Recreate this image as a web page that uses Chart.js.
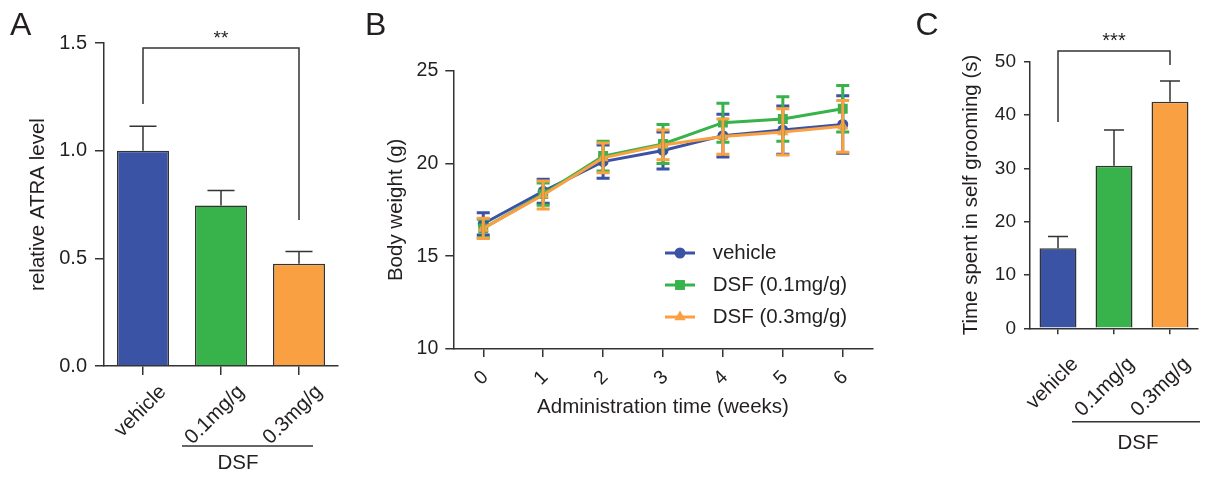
<!DOCTYPE html>
<html>
<head>
<meta charset="utf-8">
<script src="https://cdn.jsdelivr.net/npm/chart.js@4.4.1/dist/chart.umd.min.js"></script>
<style>
  html, body { margin: 0; padding: 0; background: #fff; }
  body { width: 1208px; height: 477px; position: relative; overflow: hidden; }
  canvas { position: absolute; top: 0; }
</style>
</head>
<body>
<canvas id="panelA" width="350" height="477" style="left:0px"></canvas>
<canvas id="panelB" width="550" height="477" style="left:350px"></canvas>
<canvas id="panelC" width="308" height="477" style="left:900px"></canvas>
<script>
// Panel A: relative ATRA level
const groups = ['vehicle', '0.1mg/g', '0.3mg/g'];
const atraMean = [1.0, 0.745, 0.475];
const atraSem = [0.113, 0.07, 0.057];
const atraTicks = [0, 0.5, 1.0, 1.5];

// Panel B: body weight over time
const weeks = ['0', '1', '2', '3', '4', '5', '6'];
const vehicleMean = [16.75, 18.5, 20.1, 20.7, 21.5, 21.8, 22.1];
const vehicleSem = [0.6, 0.65, 0.9, 1.0, 1.15, 1.3, 1.55];
const dsf01Mean = [16.5, 18.35, 20.4, 21.05, 22.2, 22.4, 22.95];
const dsf01Sem = [0.5, 0.6, 0.8, 1.05, 1.05, 1.2, 1.25];
const dsf03Mean = [16.5, 18.3, 20.3, 21.0, 21.45, 21.7, 22.0];
const dsf03Sem = [0.55, 0.75, 0.8, 0.8, 0.95, 1.25, 1.4];
const weightTicks = [10, 15, 20, 25];

// Panel C: self grooming
const groomMean = [15.0, 30.5, 42.5];
const groomSem = [2.2, 6.7, 3.9];
const groomTicks = [0, 10, 20, 30, 40, 50];

const colors = ['#3a53a4', '#38b24a', '#f8a042'];
const ink = '#231f20';
const axisColor = '#333333';
const FONT = "'Liberation Sans', Arial, Helvetica, sans-serif";

Chart.defaults.font.family = FONT;
Chart.defaults.color = ink;

// barras de error (SEM) dibujadas con las escalas del gráfico
const errorBars = {
    id: 'errorBars',
    afterDatasetsDraw(chart, args, opts) {
        const ctx = chart.ctx;
        const ys = chart.scales.y;
        chart.data.datasets.forEach(function(ds, i) {
            if (!ds.sem) return;
            const meta = chart.getDatasetMeta(i);
            ctx.save();
            ctx.strokeStyle = opts.color || ds.borderColor;
            ctx.lineWidth = opts.lineWidth;
            ctx.lineCap = 'butt';
            meta.data.forEach(function(el, j) {
                const x = el.x;
                const top = ys.getPixelForValue(ds.data[j] + ds.sem[j]);
                const bot = ys.getPixelForValue(opts.upOnly ? ds.data[j] : ds.data[j] - ds.sem[j]);
                const hw = opts.capWidth / 2;
                ctx.beginPath();
                ctx.moveTo(x, bot);
                ctx.lineTo(x, top);
                ctx.moveTo(x - hw, top);
                ctx.lineTo(x + hw, top);
                if (!opts.upOnly) {
                    ctx.moveTo(x - hw, bot);
                    ctx.lineTo(x + hw, bot);
                }
                ctx.stroke();
            });
            ctx.restore();
        });
    }
};

// letra del panel, corchete de significancia, grupo DSF y leyenda
const extras = {
    id: 'extras',
    afterDraw(chart, args, o) {
        const ctx = chart.ctx;
        ctx.save();
        ctx.fillStyle = ink;
        ctx.strokeStyle = axisColor;
        ctx.lineWidth = 1.5;

        ctx.font = '32px ' + FONT;
        ctx.textAlign = 'left';
        ctx.textBaseline = 'alphabetic';
        ctx.fillText(o.letter, o.letterX, 35);

        if (o.bracket) {
            const b = o.bracket;
            const xs = chart.scales.x, ys = chart.scales.y;
            const x1 = xs.getPixelForValue(b.from);
            const x2 = xs.getPixelForValue(b.to);
            const yt = ys.getPixelForValue(b.top);
            ctx.beginPath();
            ctx.moveTo(x1, ys.getPixelForValue(b.fromBottom));
            ctx.lineTo(x1, yt);
            ctx.lineTo(x2, yt);
            ctx.lineTo(x2, ys.getPixelForValue(b.toBottom));
            ctx.stroke();
            ctx.font = b.size + 'px ' + FONT;
            ctx.textAlign = 'center';
            ctx.fillText(b.label, (x1 + x2) / 2, yt - 4);
        }

        if (o.group) {
            const g = o.group;
            ctx.beginPath();
            ctx.moveTo(g.x1, g.y);
            ctx.lineTo(g.x2, g.y);
            ctx.stroke();
            ctx.font = '20.5px ' + FONT;
            ctx.textAlign = 'center';
            ctx.textBaseline = 'middle';
            ctx.fillText(g.text, g.textX, g.textY);
        }

        if (o.legend) {
            const l = o.legend;
            chart.data.datasets.forEach(function(ds, i) {
                const y = l.y + i * l.gap;
                ctx.strokeStyle = ds.borderColor;
                ctx.fillStyle = ds.borderColor;
                ctx.lineWidth = ds.borderWidth;
                ctx.beginPath();
                ctx.moveTo(l.x, y);
                ctx.lineTo(l.x + l.len, y);
                ctx.stroke();
                Chart.helpers.drawPoint(ctx, {
                    pointStyle: ds.pointStyle,
                    radius: ds.pointRadius,
                    rotation: 0,
                    borderWidth: 0
                }, l.x + l.len / 2, y);
                ctx.fillStyle = ink;
                ctx.font = '20.5px ' + FONT;
                ctx.textAlign = 'left';
                ctx.textBaseline = 'middle';
                ctx.fillText(ds.label, l.textX, y);
            });
        }
        ctx.restore();
    }
};

function axisGrid(tickLen) {
    return { display: true, drawOnChartArea: false, offset: false, tickLength: tickLen, color: axisColor, lineWidth: 1.5 };
}
const axisBorder = { display: true, color: axisColor, width: 1.5 };

// ---- Panel A ----
new Chart(document.getElementById('panelA'), {
    type: 'bar',
    data: {
        labels: groups,
        datasets: [{
            data: atraMean,
            sem: atraSem,
            backgroundColor: colors,
            borderColor: axisColor,
            borderWidth: 1.5,
            barPercentage: 0.667,
            categoryPercentage: 1
        }]
    },
    options: {
        responsive: false,
        animation: false,
        devicePixelRatio: 1,
        layout: { padding: { left: 25.7, top: 43, right: 12, bottom: 0 } },
        plugins: {
            legend: { display: false },
            tooltip: { enabled: false },
            errorBars: { capWidth: 27, lineWidth: 1.5, color: axisColor, upOnly: true },
            extras: {
                letter: 'A', letterX: 10,
                bracket: { from: 0, to: 2, top: 1.477, fromBottom: 1.217, toBottom: 0.678, label: '**', size: 19 },
                group: { x1: 182, x2: 313, y: 446, text: 'DSF', textX: 238, textY: 463 }
            }
        },
        scales: {
            x: {
                grid: axisGrid(9),
                border: axisBorder,
                ticks: { color: ink, font: { size: 20.5 }, maxRotation: 45, minRotation: 45, padding: 5, labelOffset: 20, autoSkip: false },
                afterFit: function(s) { s.height = 111; }
            },
            y: {
                min: 0, max: 1.5,
                afterBuildTicks: function(s) { s.ticks = atraTicks.map(v => ({ value: v })); },
                grid: axisGrid(9),
                border: axisBorder,
                ticks: { color: ink, font: { size: 20 }, padding: 8, callback: v => v.toFixed(1) },
                title: { display: true, text: 'relative ATRA level', color: ink, font: { size: 20.5 }, padding: 0 },
                afterFit: function(s) { s.width = 78.3; }
            }
        }
    },
    plugins: [errorBars, extras]
});

// ---- Panel B ----
new Chart(document.getElementById('panelB'), {
    type: 'line',
    data: {
        labels: weeks,
        datasets: [
            { label: 'vehicle', data: vehicleMean, sem: vehicleSem, borderColor: colors[0], backgroundColor: colors[0],
              borderWidth: 3, pointStyle: 'circle', pointRadius: 5.5, pointBorderWidth: 0, tension: 0, order: 2 },
            { label: 'DSF (0.1mg/g)', data: dsf01Mean, sem: dsf01Sem, borderColor: colors[1], backgroundColor: colors[1],
              borderWidth: 3, pointStyle: 'rect', pointRadius: 7, pointBorderWidth: 0, tension: 0, order: 1 },
            { label: 'DSF (0.3mg/g)', data: dsf03Mean, sem: dsf03Sem, borderColor: colors[2], backgroundColor: colors[2],
              borderWidth: 3, pointStyle: 'triangle', pointRadius: 6.5, pointBorderWidth: 0, tension: 0, order: 0 }
        ]
    },
    options: {
        responsive: false,
        animation: false,
        devicePixelRatio: 1,
        layout: { padding: { left: 34.4, top: 70.7, right: 27.3, bottom: 57.7 } },
        plugins: {
            legend: { display: false },
            tooltip: { enabled: false },
            errorBars: { capWidth: 13, lineWidth: 3, upOnly: false },
            extras: {
                letter: 'B', letterX: 15,
                legend: { x: 315, y: 253, gap: 32, len: 30, textX: 362.7 }
            }
        },
        scales: {
            x: {
                offset: true,
                grid: axisGrid(8),
                border: axisBorder,
                ticks: { color: ink, font: { size: 19.5 }, maxRotation: 45, minRotation: 45, padding: 9, labelOffset: 2, autoSkip: false },
                title: { display: true, text: 'Administration time (weeks)', color: ink, font: { size: 20.5 }, padding: 0 },
                afterFit: function(s) { s.height = 70.3; }
            },
            y: {
                min: 10, max: 25,
                afterBuildTicks: function(s) { s.ticks = weightTicks.map(v => ({ value: v })); },
                grid: axisGrid(8),
                border: axisBorder,
                ticks: { color: ink, font: { size: 19.5 }, padding: 7 },
                title: { display: true, text: 'Body weight (g)', color: ink, font: { size: 20.5 }, padding: 0 },
                afterFit: function(s) { s.width = 68.9; }
            }
        }
    },
    plugins: [errorBars, extras]
});

// ---- Panel C ----
new Chart(document.getElementById('panelC'), {
    type: 'bar',
    data: {
        labels: groups,
        datasets: [{
            data: groomMean,
            sem: groomSem,
            backgroundColor: colors,
            borderColor: axisColor,
            borderWidth: 1.5,
            barPercentage: 0.66,
            categoryPercentage: 1
        }]
    },
    options: {
        responsive: false,
        animation: false,
        devicePixelRatio: 1,
        layout: { padding: { left: 59.4, top: 61.7, right: 10, bottom: 0 } },
        plugins: {
            legend: { display: false },
            tooltip: { enabled: false },
            errorBars: { capWidth: 20, lineWidth: 1.5, color: axisColor, upOnly: true },
            extras: {
                letter: 'C', letterX: 15.5,
                bracket: { from: 0, to: 2, top: 52, fromBottom: 38.7, toBottom: 49.4, label: '***', size: 20 },
                group: { x1: 172, x2: 300, y: 421.7, text: 'DSF', textX: 238, textY: 443 }
            }
        },
        scales: {
            x: {
                grid: axisGrid(6),
                border: axisBorder,
                ticks: { color: ink, font: { size: 20.5 }, maxRotation: 45, minRotation: 45, padding: 18, labelOffset: 17, autoSkip: false },
                afterFit: function(s) { s.height = 148.7; }
            },
            y: {
                min: 0, max: 50,
                afterBuildTicks: function(s) { s.ticks = groomTicks.map(v => ({ value: v })); },
                grid: axisGrid(6),
                border: axisBorder,
                ticks: { color: ink, font: { size: 19 }, padding: 8 },
                title: { display: true, text: 'Time spent in self grooming (s)', color: ink, font: { size: 20.5 }, padding: 0 },
                afterFit: function(s) { s.width = 70.6; }
            }
        }
    },
    plugins: [errorBars, extras]
});
</script>
</body>
</html>
